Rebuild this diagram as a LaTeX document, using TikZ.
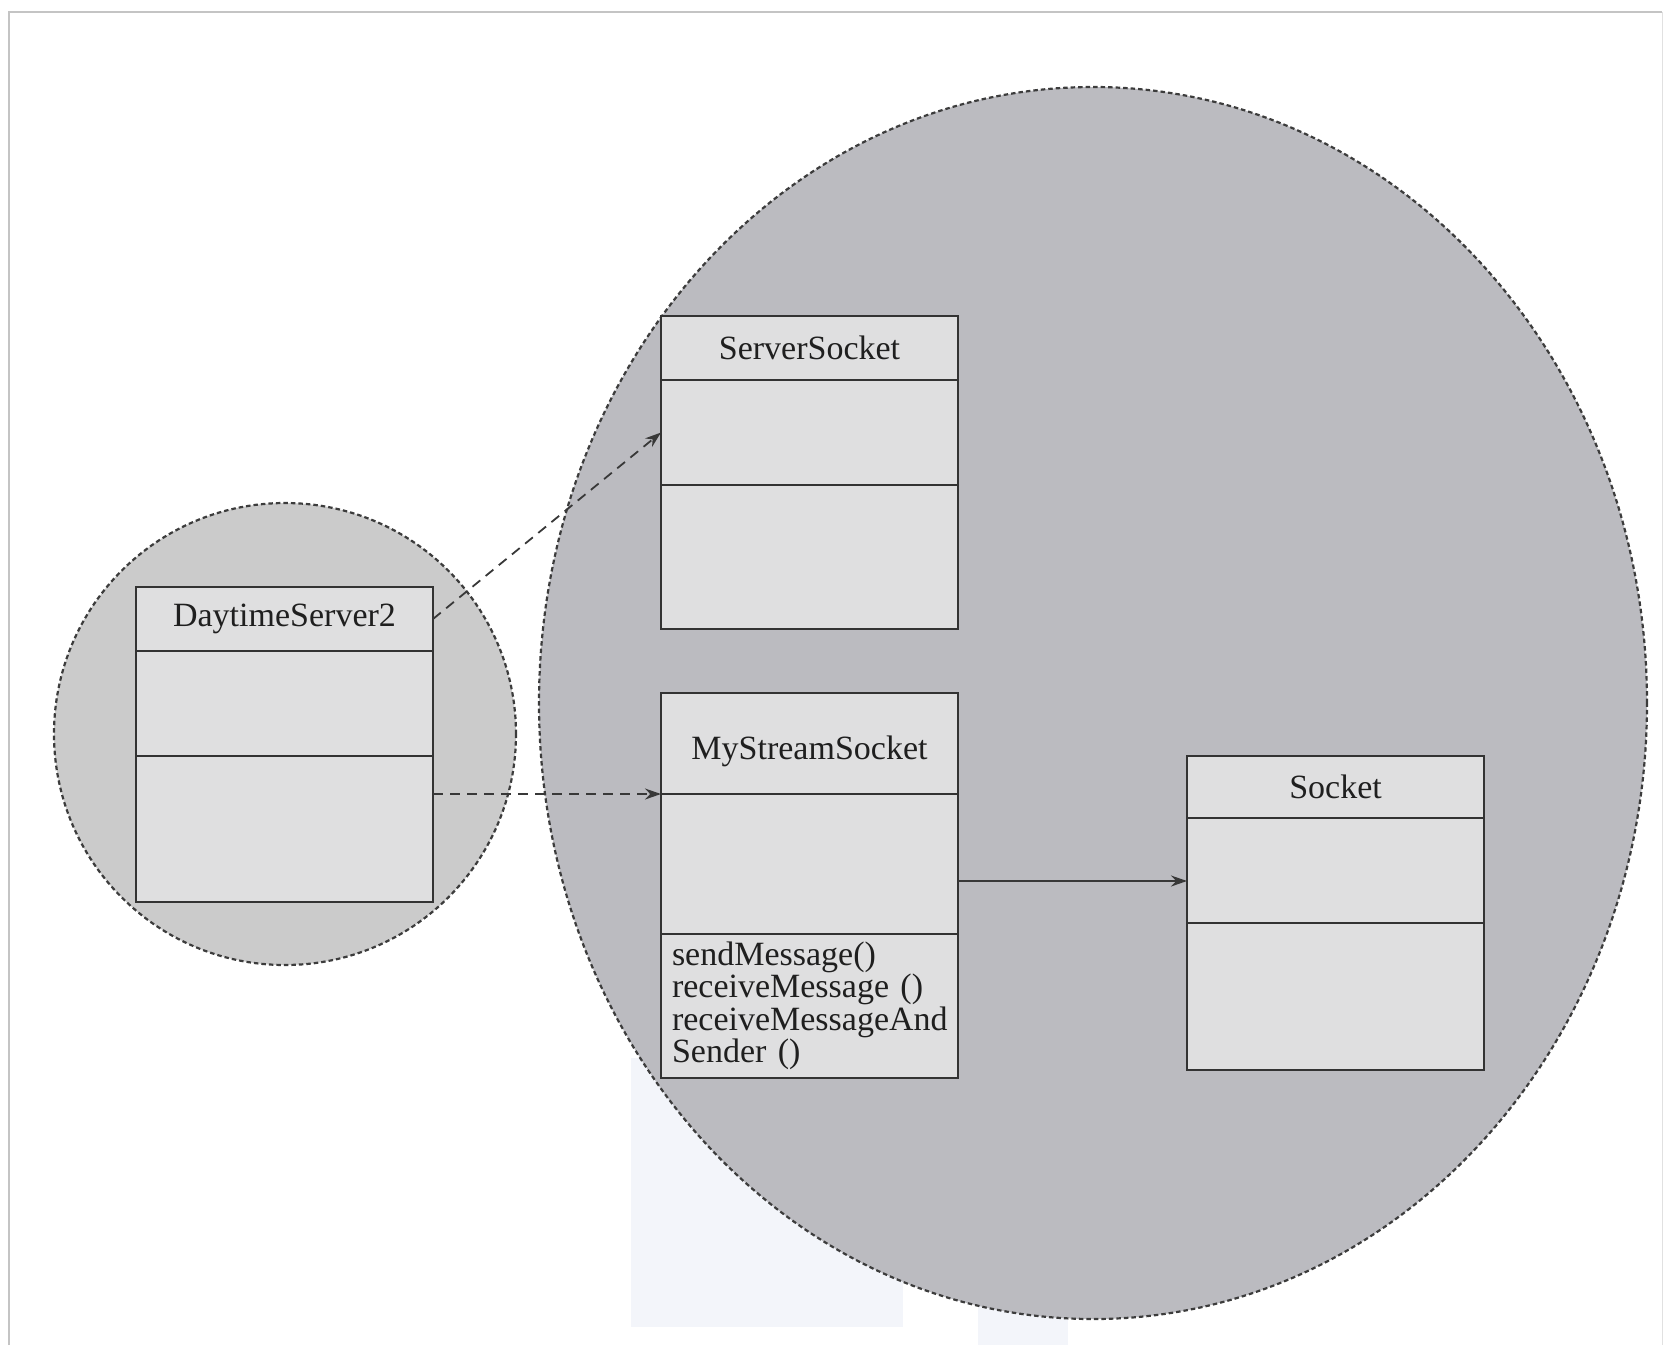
\documentclass[tikz,border=0pt]{standalone}
\usepackage{fontspec}
\setmainfont{Liberation Serif}
\usetikzlibrary{positioning, arrows.meta, calc}

\definecolor{bigzone}{RGB}{187,187,192}
\definecolor{smallzone}{RGB}{203,203,203}
\definecolor{boxgray}{RGB}{223,223,224}
\definecolor{edgegray}{RGB}{60,60,60}
\definecolor{framegray}{RGB}{196,196,196}
\definecolor{scanblue}{RGB}{243,245,250}

\begin{document}
\begin{tikzpicture}[
    x=1pt, y=-1pt,
    node distance=0pt,
    zone/.style={draw=edgegray, fill=#1, line width=2.2pt, dash pattern=on 4.5pt off 3pt},
    cell/.style={rectangle, draw=black!80, fill=boxgray, line width=1.8pt,
                 minimum width=297pt, minimum height=#1, inner sep=0pt, outer sep=0pt},
    head/.style={cell=#1, font=\fontsize{34}{34}\selectfont, text=black!88},
    ops/.style={cell=#1, align=left, text width=275pt, inner xsep=11pt,
                font=\fontsize{34}{32.5}\selectfont, text=black!88},
    arrow/.style={->, >={Stealth[length=16pt,width=11pt]}, black!78, line width=1.8pt},
    dep/.style={arrow, dash pattern=on 10pt off 7pt},
]
\useasboundingbox (0,0) rectangle (1664,1345);

% ── Frame and scan marks ──
\draw[framegray, line width=2pt] (9,1345) -- (9,12) -- (1662,12);
\draw[framegray!50, line width=1pt] (1662,12) -- (1662,1345);
\fill[scanblue] (631,1058) rectangle (903,1327);
\fill[scanblue] (978,1292) rectangle (1068,1345);

% ── Zones ──
\draw[zone=bigzone] (1093,703) ellipse [x radius=554pt, y radius=616pt];
\draw[zone=smallzone] (285,734) ellipse [x radius=231pt, y radius=231pt];

% ── DaytimeServer2 ──
\node[head=64pt, anchor=north west] (dts) at (136,587) {DaytimeServer2};
\node[cell=105pt, below=of dts] (dts-attr) {};
\node[cell=146pt, below=of dts-attr] (dts-ops) {};

% ── ServerSocket ──
\node[head=64pt, anchor=north west] (ss) at (661,316) {ServerSocket};
\node[cell=105pt, below=of ss] (ss-attr) {};
\node[cell=144pt, below=of ss-attr] (ss-ops) {};

% ── MyStreamSocket ──
\node[head=101pt, anchor=north west] (ms) at (661,693)
    {\raisebox{-8pt}[\height][\depth]{MyStreamSocket}};
\node[cell=140pt, below=of ms] (ms-attr) {};
\node[ops=144pt, below=of ms-attr] (ms-ops)
    {sendMessage()\\receiveMessage ()\\receiveMessageAnd\\Sender ()};

% ── Socket ──
\node[head=62pt, anchor=north west] (sk) at (1187,756) {Socket};
\node[cell=105pt, below=of sk] (sk-attr) {};
\node[cell=147pt, below=of sk-attr] (sk-ops) {};

% ── Arrows ──
\coordinate (link) at ([yshift=-17pt]ms-attr.east);
\draw[dep] (dts.east) -- (ss-attr.west);
\draw[dep] (dts-ops.east |- ms.south) -- (ms.south west);
\draw[arrow] (link) -- (link -| sk-attr.west);

\end{tikzpicture}
\end{document}
